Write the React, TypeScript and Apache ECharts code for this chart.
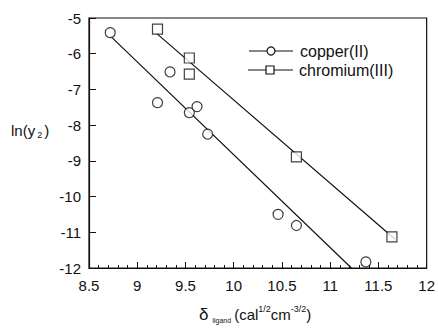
import React, { useEffect, useRef } from "react";
import * as echarts from "echarts";

const copperX = [8.72, 9.21, 9.34, 9.54, 9.62, 9.73, 10.46, 10.65, 11.37];
const copperY = [-5.41, -7.37, -6.51, -7.65, -7.48, -8.25, -10.5, -10.81, -11.83];
const chromiumX = [9.21, 9.54, 9.54, 10.65, 11.64];
const chromiumY = [-5.31, -6.12, -6.57, -8.89, -11.13];
const copperFitX = [8.72, 11.22];
const copperFitY = [-5.5, -12];
const chromiumFitX = [9.2, 11.67];
const chromiumFitY = [-5.43, -11.19];

const FONT = "Liberation Sans, Arial, sans-serif";
const INK = "#111";

export default function App() {
  const ref = useRef<HTMLDivElement>(null);
  useEffect(() => {
    const chart = echarts.init(ref.current!, null, { renderer: "svg" });
    const zip = (xs: number[], ys: number[]) => xs.map((x, i) => [x, ys[i]]);
    const markerStyle = { color: "#fff", borderColor: INK, borderWidth: 1.2 };
    chart.setOption({
      animation: false,
      backgroundColor: "#fff",
      grid: {
        left: 89, top: 18, right: 11, bottom: 60,
        show: true, borderColor: INK, borderWidth: 1.2, backgroundColor: "transparent",
      },
      xAxis: {
        type: "value", min: 8.5, max: 12, interval: 0.5,
        axisLine: { lineStyle: { color: INK, width: 1.2 } },
        axisTick: { inside: true, length: 6, lineStyle: { color: INK } },
        minorTick: { show: true, splitNumber: 5, length: 3, lineStyle: { color: INK } },
        splitLine: { show: false },
        axisLabel: { color: INK, fontFamily: FONT, fontSize: 15, margin: 10,
          formatter: (v: number) => String(v) },
      },
      yAxis: {
        type: "value", min: -12, max: -5, interval: 1,
        axisLine: { show: true, lineStyle: { color: INK, width: 1.2 } },
        axisTick: { show: true, inside: true, length: 7, lineStyle: { color: INK } },
        splitLine: { show: false },
        axisLabel: { color: INK, fontFamily: FONT, fontSize: 15, margin: 8,
          formatter: (v: number) => String(v) },
      },
      series: [
        { type: "line", data: zip(copperFitX, copperFitY), showSymbol: false, silent: true,
          lineStyle: { color: INK, width: 1.2 } },
        { type: "line", data: zip(chromiumFitX, chromiumFitY), showSymbol: false, silent: true,
          lineStyle: { color: INK, width: 1.2 } },
        { type: "scatter", name: "copper(II)", data: zip(copperX, copperY), symbol: "circle",
          symbolSize: 10, itemStyle: markerStyle, z: 5 },
        { type: "scatter", name: "chromium(III)", data: zip(chromiumX, chromiumY), symbol: "rect",
          symbolSize: 10, itemStyle: markerStyle, z: 5 },
      ],
      graphic: [
        { type: "line", shape: { x1: 249, y1: 51, x2: 293, y2: 51 }, style: { stroke: INK, lineWidth: 1.2 } },
        { type: "circle", shape: { cx: 271, cy: 51, r: 4 }, style: { fill: "#fff", stroke: INK, lineWidth: 1.2 } },
        { type: "text", x: 300, y: 51, style: { text: "copper(II)", fontFamily: FONT, fontSize: 16, fill: INK, verticalAlign: "middle" } },
        { type: "line", shape: { x1: 248, y1: 70, x2: 293, y2: 70 }, style: { stroke: INK, lineWidth: 1.2 } },
        { type: "rect", shape: { x: 266, y: 66, width: 8, height: 8 }, style: { fill: "#fff", stroke: INK, lineWidth: 1.2 } },
        { type: "text", x: 299, y: 70, style: { text: "chromium(III)", fontFamily: FONT, fontSize: 16, fill: INK, verticalAlign: "middle" } },
        { type: "text", x: 11, y: 130, style: {
          text: "ln(y{sub|2})", fontFamily: FONT, fontSize: 15, fill: INK, verticalAlign: "middle",
          rich: { sub: { fontSize: 9, fontFamily: FONT, fill: INK, padding: [9, 2, 0, 2] } },
        } },
        { type: "text", x: 199, y: 314, style: {
          text: "{d|δ}{sub|ligand}(cal{sup|1/2}cm{sup|-3/2})", fontFamily: FONT, fontSize: 15, fill: INK,
          verticalAlign: "middle",
          rich: {
            d: { fontSize: 17, fontFamily: FONT, fill: INK },
            sub: { fontSize: 7, fontFamily: FONT, fill: INK, padding: [13, 3, 0, 4] },
            sup: { fontSize: 9, fontFamily: FONT, fill: INK, padding: [0, 0, 10, 0] },
          },
        } },
      ],
    });
    return () => chart.dispose();
  }, []);
  return <div ref={ref} style={{ width: 438, height: 328, position: "absolute", left: 0, top: 0 }} />;
}
